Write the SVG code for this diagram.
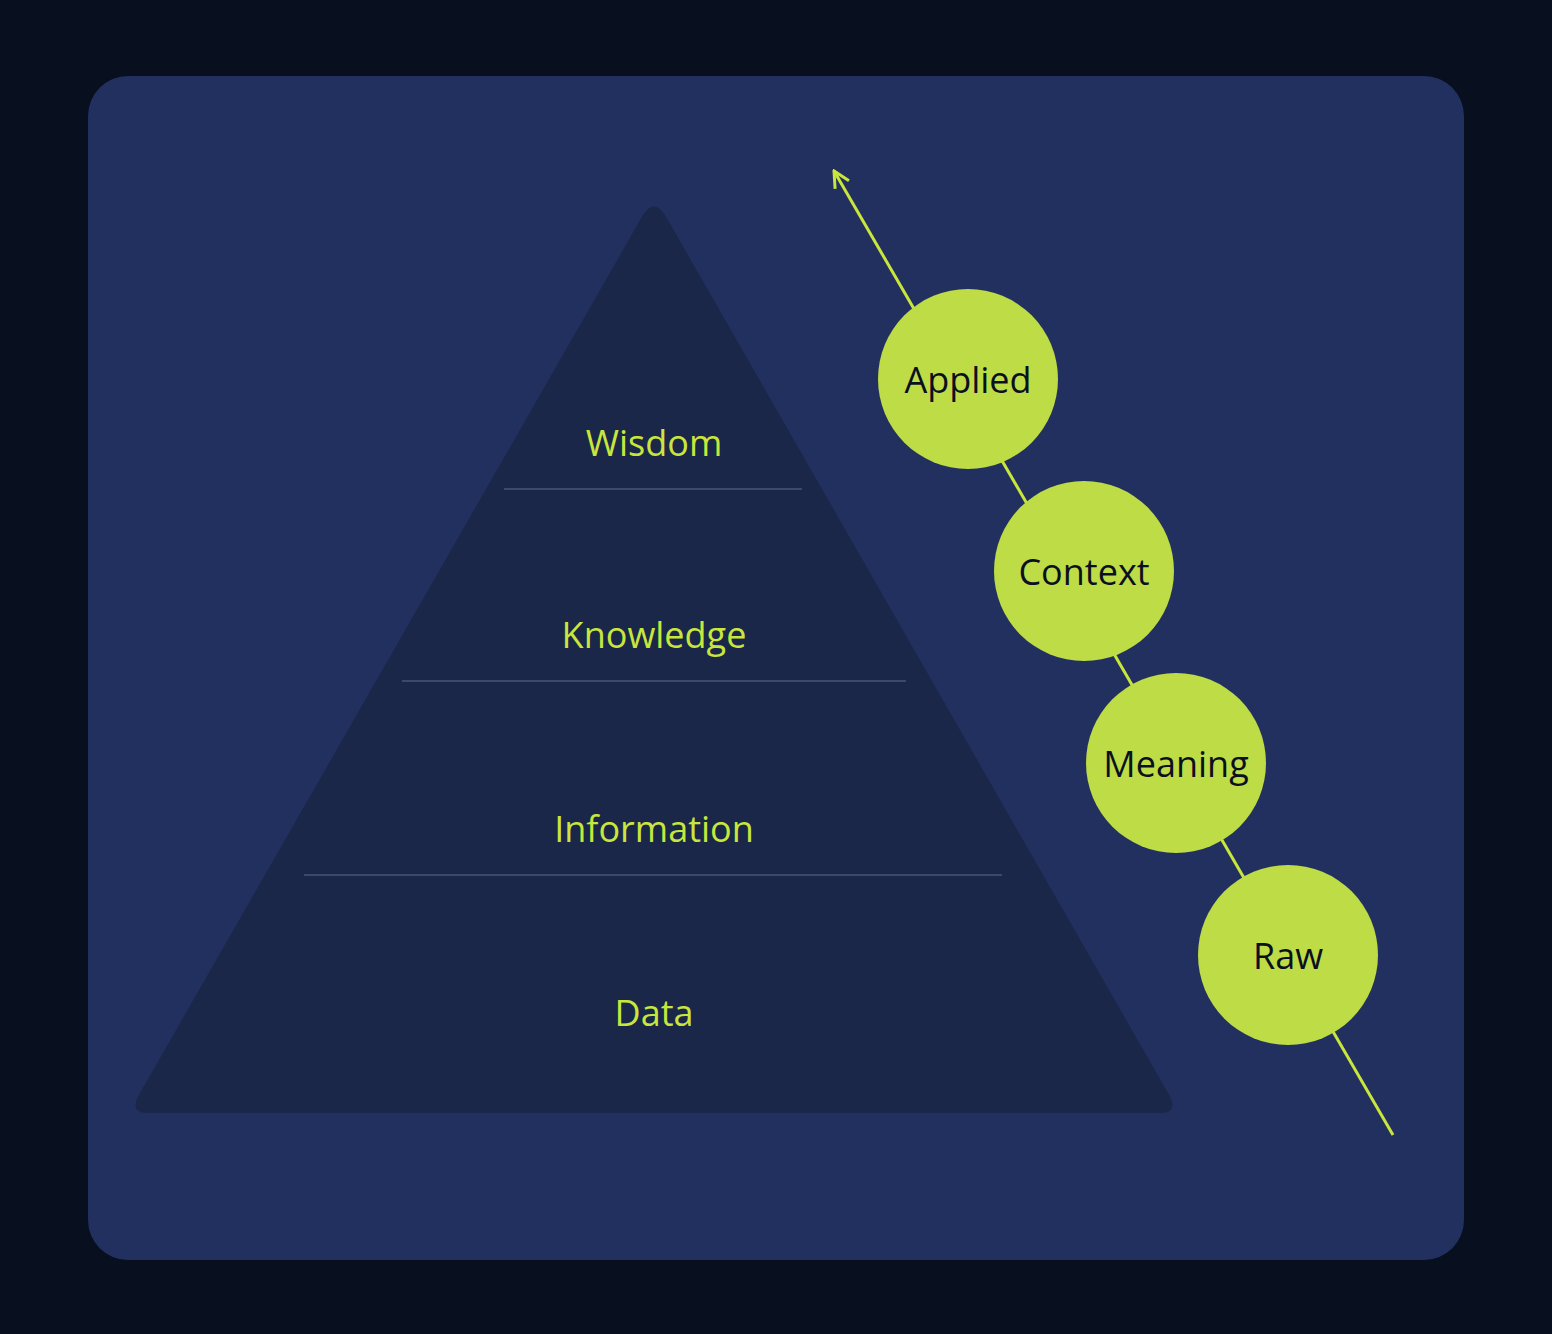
<svg xmlns="http://www.w3.org/2000/svg" width="1552" height="1334" viewBox="0 0 1552 1334">
<style>
.lvl{font-family:"Open Sans","Liberation Sans",sans-serif;font-size:36px;fill:#c8e63c;text-anchor:middle}
.ct{font-family:"Open Sans","Liberation Sans",sans-serif;font-size:36px;fill:#0b1020;text-anchor:middle}
.sep{stroke:#3a4a6c;stroke-width:2}
.c{fill:#bedc45}
</style>
<defs>
<marker id="ah" viewBox="0 0 20 20" refX="18" refY="10" markerWidth="20" markerHeight="20" markerUnits="userSpaceOnUse" orient="auto">
<path d="M2 2 L18 10 L2 18" fill="none" stroke="#c8e63c" stroke-width="3"/>
</marker>
</defs>
<rect width="1552" height="1334" fill="#080f1f"/>
<rect x="88" y="76" width="1376" height="1184" rx="40" fill="#223060"/>
<g id="pyramid">
<path d="M643 215 Q654 198 665 215 L1168 1093 Q1180 1113 1160 1113 L148 1113 Q128 1113 140 1093 Z" fill="#1a2749"/>
<line class="sep" x1="504" y1="489" x2="802" y2="489"/>
<line class="sep" x1="402" y1="681" x2="906" y2="681"/>
<line class="sep" x1="304" y1="875" x2="1002" y2="875"/>
</g>
<g id="wisdom"><text class="lvl" x="654" y="456">Wisdom</text></g>
<g id="knowledge"><text class="lvl" x="654" y="648">Knowledge</text></g>
<g id="information"><text class="lvl" x="654" y="842">Information</text></g>
<g id="data"><text class="lvl" x="654" y="1026">Data</text></g>
<g id="connectors">
<line x1="1393" y1="1135" x2="834" y2="171" stroke="#c8e63c" stroke-width="3" marker-end="url(#ah)"/>
</g>
<g id="applied"><circle class="c" cx="968" cy="379" r="90"/><text class="ct" x="968" y="393">Applied</text></g>
<g id="context"><circle class="c" cx="1084" cy="571" r="90"/><text class="ct" x="1084" y="585">Context</text></g>
<g id="meaning"><circle class="c" cx="1176" cy="763" r="90"/><text class="ct" x="1176" y="777">Meaning</text></g>
<g id="raw"><circle class="c" cx="1288" cy="955" r="90"/><text class="ct" x="1288" y="969">Raw</text></g>
</svg>
